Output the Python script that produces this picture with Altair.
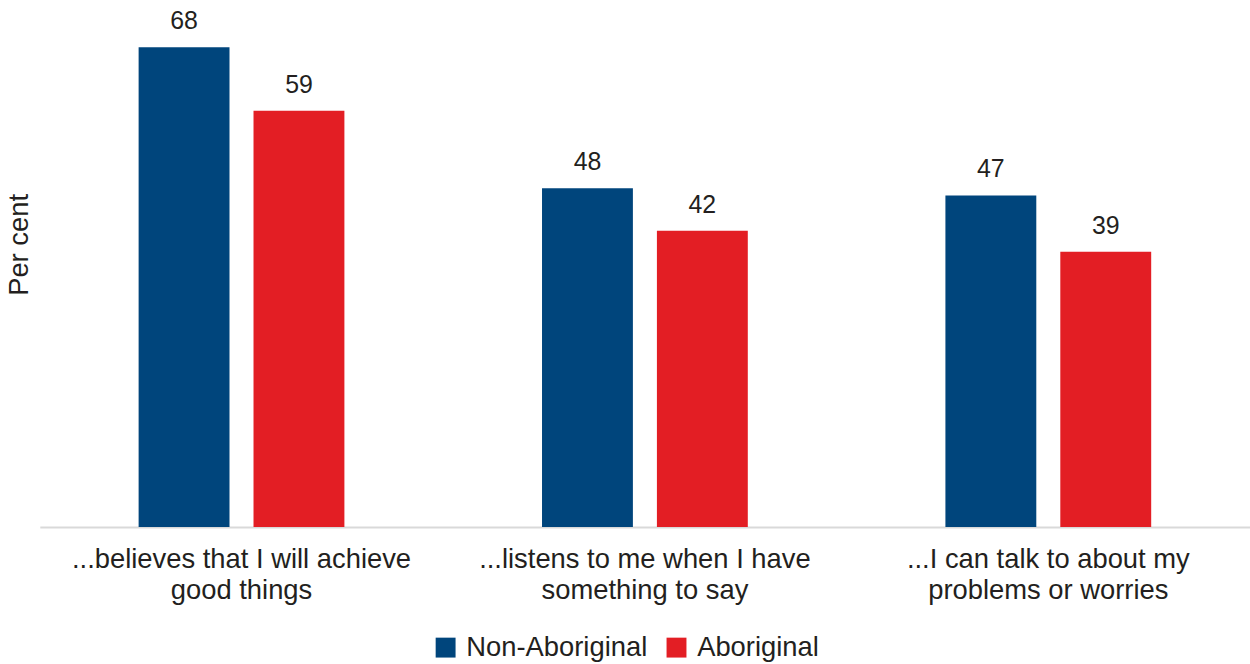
import altair as alt
import pandas as pd

categories = [
    "...believes that I will achieve|good things",
    "...listens to me when I have|something to say",
    "...I can talk to about my|problems or worries",
]
series = ["Non-Aboriginal", "Aboriginal"]
non_aboriginal = [68, 48, 47]
aboriginal = [59, 42, 39]
colors = ["#00457C", "#E31E24"]

rows = []
for c, a, b in zip(categories, non_aboriginal, aboriginal):
    rows.append({"cat": c, "group": series[0], "value": a})
    rows.append({"cat": c, "group": series[1], "value": b})
df = pd.DataFrame(rows)

FONT = "Liberation Sans"
FS = 27.5

x = alt.X("cat:N", sort=categories, title=None,
          scale=alt.Scale(paddingInner=0, paddingOuter=0),
          axis=alt.Axis(labelExpr="split(datum.label, '|')", labelAngle=0,
                        labelFontSize=FS, labelFont=FONT, labelColor="#231F20",
                        labelLineHeight=31, labelPadding=19, ticks=False, labelLimit=0,
                        domainColor="#D9D9D9", domainWidth=2, labelBaseline="top"))
xoff = alt.XOffset("group:N", sort=series,
                   scale=alt.Scale(paddingInner=0.209, paddingOuter=0.86))
y = alt.Y("value:Q", scale=alt.Scale(domain=[0, 73.9], nice=False, zero=True),
          axis=alt.Axis(title="Per cent", labels=False, ticks=False, domain=False,
                        grid=False, titleFont=FONT, titleFontSize=FS,
                        titleFontWeight="normal", titleColor="#231F20",
                        titleX=-20, titleY=240, titleAlign="center",
                        titleBaseline="middle", titleAngle=270))
color = alt.Color("group:N", sort=series,
                  scale=alt.Scale(domain=series, range=colors),
                  legend=alt.Legend(title=None, orient="none", direction="horizontal",
                                    legendX=394, legendY=631, symbolType="square",
                                    symbolSize=400, symbolStrokeWidth=0,
                                    labelFont=FONT, labelFontSize=FS, labelLimit=0,
                                    labelColor="#231F20", columnPadding=15,
                                    labelOffset=7, padding=0, symbolOpacity=1))

bars = alt.Chart(df).mark_bar(opacity=1).encode(x=x, xOffset=xoff, y=y, color=color)
labels = alt.Chart(df).mark_text(font=FONT, fontSize=25, dy=-18, baseline="alphabetic",
                                 color="#231F20").encode(
    x=x, xOffset=xoff, y=y, text=alt.Text("value:Q"))

chart = (bars + labels).properties(
    width=1216, height=524,
    background="white",
    autosize=alt.AutoSizeParams(type="none"),
    padding={"left": 40, "top": 4, "right": 0, "bottom": 136},
).configure_view(strokeOpacity=0, strokeWidth=0, stroke="transparent")

chart.save("out.html", embed_options={"renderer": "svg", "actions": False})
